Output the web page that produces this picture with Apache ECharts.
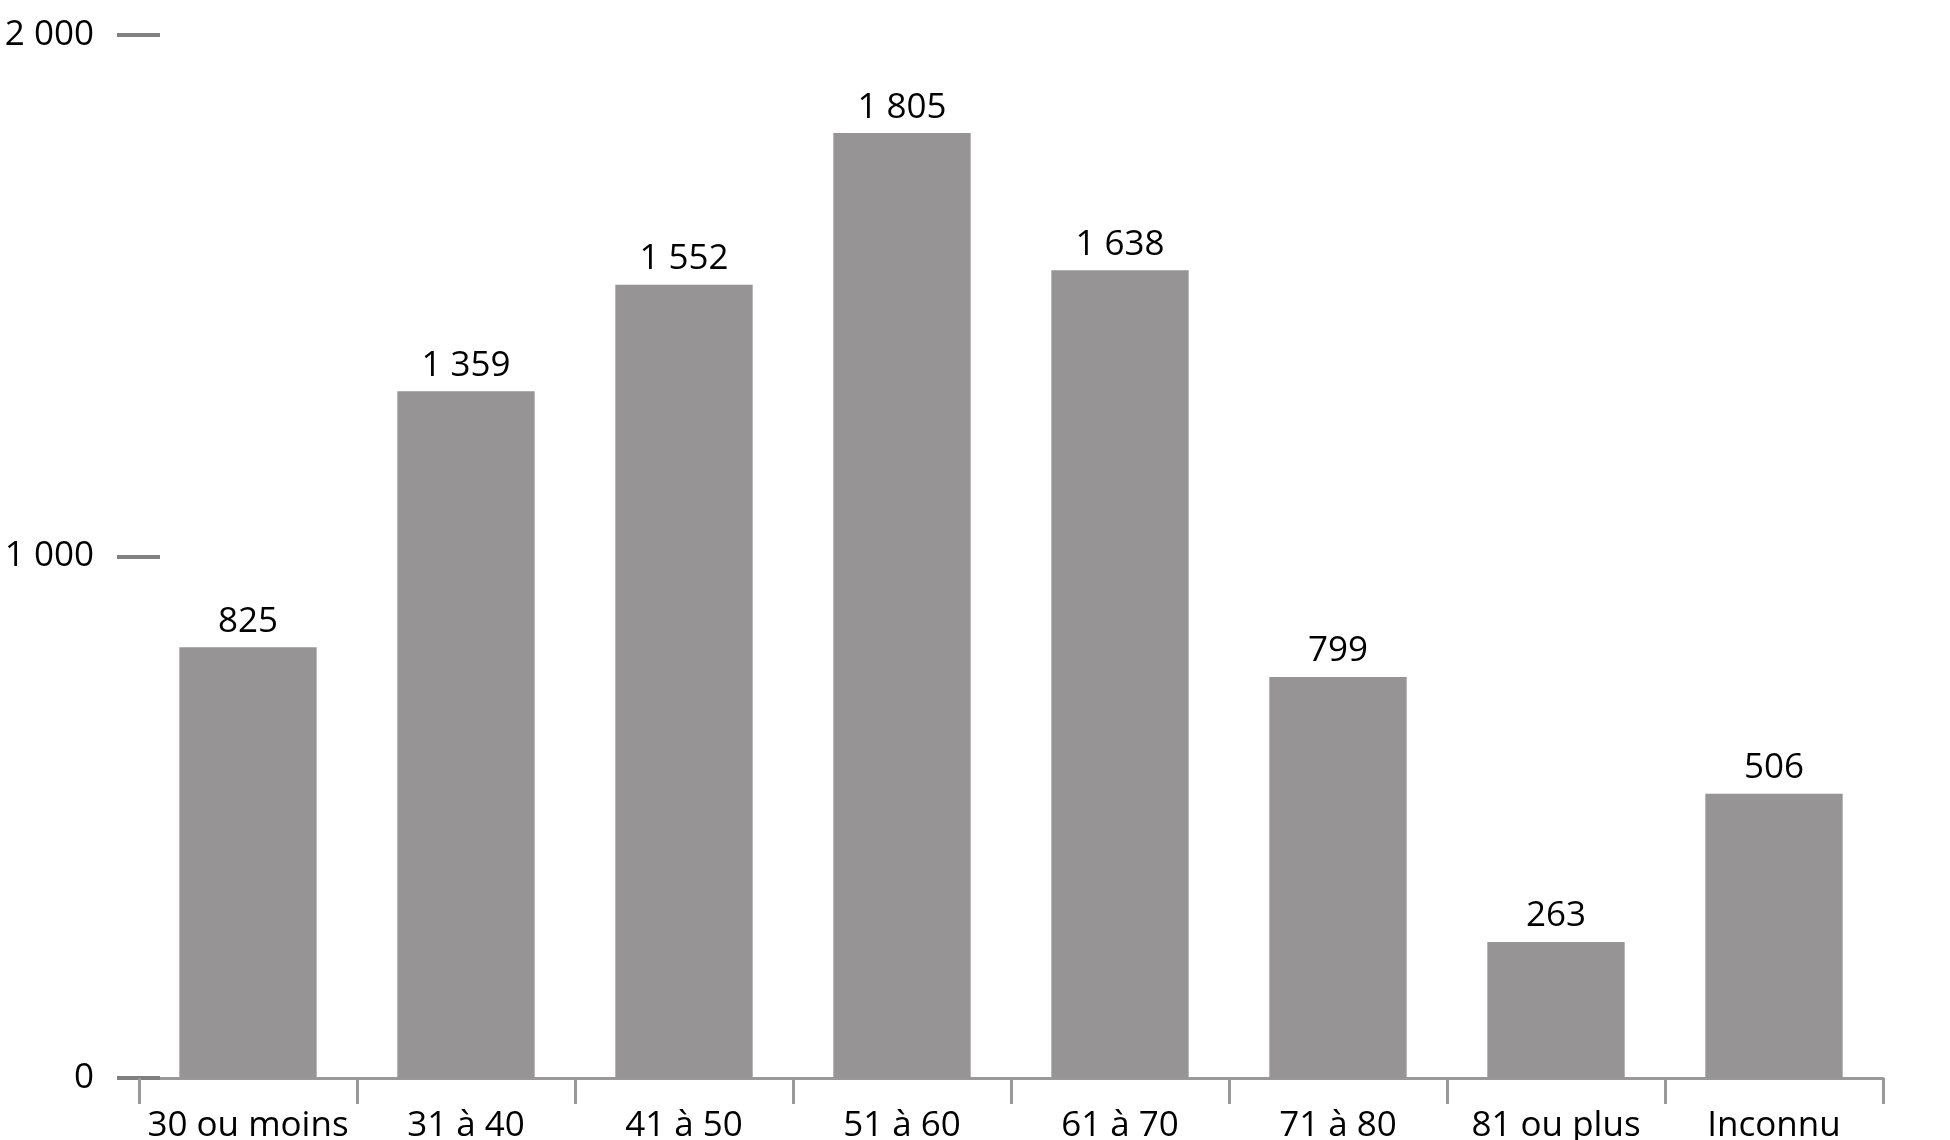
<!DOCTYPE html>
<html>
<head>
<meta charset="utf-8">
<script src="https://cdn.jsdelivr.net/npm/echarts@6/dist/echarts.min.js"></script>
<style>
html,body{margin:0;padding:0;background:#fff;}
#chart{width:1950px;height:1140px;}
</style>
</head>
<body>
<div id="chart"></div>
<script>
// Categories (age groups)
const categories = ['30 ou moins', '31 à 40', '41 à 50', '51 à 60', '61 à 70', '71 à 80', '81 ou plus', 'Inconnu'];
// Printed value labels
const labelValues = [825, 1359, 1552, 1805, 1638, 799, 263, 506];
// Bar heights as drawn in the picture (read against the y axis)
const barHeights = [826, 1317, 1521, 1812, 1549, 769, 261, 545];
// Y axis ticks
const yTicks = [0, 1000, 2000];

function fmt(v) {
  return String(v).replace(/\B(?=(\d{3})+(?!\d))/g, ' ');
}

const FONT = 'Open Sans';
const chart = echarts.init(document.getElementById('chart'), null, {renderer: 'canvas'});
chart.setOption({
  animation: false,
  backgroundColor: '#ffffff',
  grid: {left: 139, right: 67, top: 35, bottom: 62, containLabel: false, outerBoundsMode: 'none'},
  xAxis: {
    type: 'category',
    data: categories,
    boundaryGap: true,
    axisLine: {show: true, lineStyle: {color: '#999999', width: 3}},
    axisTick: {show: true, length: 26, lineStyle: {color: '#999999', width: 3}},
    axisLabel: {interval: 0, color: '#000000', fontFamily: FONT, fontSize: 35, margin: 31}
  },
  yAxis: {
    type: 'value',
    min: yTicks[0],
    max: yTicks[yTicks.length - 1],
    interval: yTicks[1] - yTicks[0],
    offset: -21,
    splitLine: {show: false},
    axisLine: {show: false},
    axisTick: {show: true, length: 43, lineStyle: {color: '#808080', width: 4}},
    axisLabel: {color: '#000000', fontFamily: FONT, fontSize: 35, margin: 66, formatter: v => fmt(v)}
  },
  series: [{
    type: 'bar',
    data: barHeights,
    barCategoryGap: '37%',
    itemStyle: {color: '#969495'},
    label: {
      show: true,
      position: 'top',
      distance: 8,
      color: '#000000',
      fontFamily: FONT,
      fontSize: 35,
      formatter: p => fmt(labelValues[p.dataIndex])
    }
  }]
});
</script>
</body>
</html>
